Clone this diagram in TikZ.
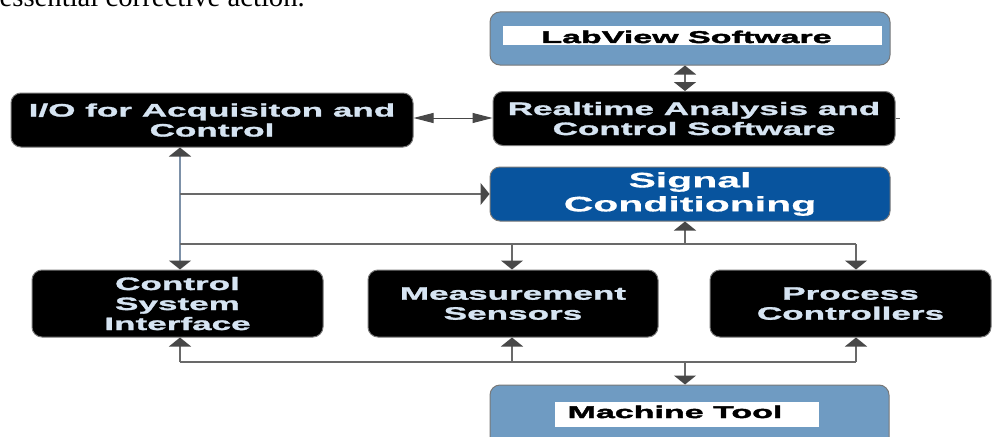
\documentclass[tikz,border=0pt]{standalone}
\usepackage{fontspec}
\usetikzlibrary{arrows.meta}
\newfontfamily\boxfont[FakeStretch=1.95,FakeBold=1.5]{Liberation Sans Bold}
\newfontfamily\heavyfont[FakeStretch=2,FakeBold=2.5]{Liberation Sans Bold}
\newfontfamily\sigfont[FakeStretch=1.95,FakeBold=0.6]{Liberation Sans Bold}
\newfontfamily\serifface{Liberation Serif}
\definecolor{steel}{RGB}{111,155,194}
\definecolor{sigblue}{RGB}{8,84,158}
\definecolor{paleblue}{RGB}{214,228,242}
\definecolor{arrowgray}{RGB}{72,72,72}
\definecolor{linegray}{RGB}{105,105,105}
\definecolor{stemblue}{RGB}{125,145,168}
\definecolor{edgegray}{RGB}{120,120,120}
\tikzset{
  blackbox/.style={draw=edgegray, line width=1pt, fill=black, rounded corners=10pt,
    text=paleblue, font=\boxfont\fontsize{18}{20}\selectfont, align=center, inner sep=0pt,
    text depth=0pt},
  lightbox/.style={draw=edgegray, line width=1pt, fill=steel, rounded corners=10pt},
  sigbox/.style={draw=edgegray, line width=1pt, fill=sigblue, rounded corners=10pt,
    text=white, font=\sigfont\fontsize{21}{24}\selectfont, align=center, inner sep=0pt},
  whitelabel/.style={fill=white, inner sep=0pt},
  labeltext/.style={inner sep=0pt, text=black, font=\heavyfont\fontsize{17}{19}\selectfont},
  conn/.style={draw=linegray, line width=1.5pt},
  bigtip/.style={arrows={-{Triangle[width=22pt,length=9pt,color=arrowgray]}}},
  bigdbl/.style={arrows={{Triangle[width=22pt,length=9pt,color=arrowgray]}-{Triangle[width=22pt,length=9pt,color=arrowgray]}}},
  thindbl/.style={draw=arrowgray, line width=1pt,
    arrows={{Triangle[width=10pt,length=20pt]}-{Triangle[width=10pt,length=20pt]}}},
}
\begin{document}
\begin{tikzpicture}[x=1pt,y=-1pt]
\useasboundingbox (0,0) rectangle (992,436);
\clip (0,0) rectangle (992,436);
\fill[white] (0,0) rectangle (992,436);

% fragment of surrounding text (cut off at the top, as in the reference)
\node[inner sep=0pt, anchor=base east, font=\serifface\fontsize{28.7}{30}\selectfont] (frag) at (305,7) {essential corrective action.};

% boxes
\node[lightbox, minimum width=400pt, minimum height=53pt] (lab) at (690,38.5) {};
\node[whitelabel, minimum width=379pt, minimum height=19pt] (lablabel) at (692.5,35.5) {};
\node[labeltext, anchor=base] (labtxt) at (686.5,43) {LabView Software};

\node[blackbox, minimum width=402pt, minimum height=54pt] (rt) at (694,118.5) {Realtime Analysis and\\Control Software};
\node[blackbox, minimum width=402pt, minimum height=54pt] (io) at (212,120) {I/O for Acquisiton and\\Control};
\node[sigbox, minimum width=400pt, minimum height=54pt] (sig) at (690,194) {Signal\\Conditioning};

\node[blackbox, minimum width=291pt, minimum height=67pt] (csi) at (177.5,303.5) {Control\\System\\Interface};
\node[blackbox, minimum width=290pt, minimum height=67pt] (ms) at (513,303.5) {Measurement\\Sensors};
\node[blackbox, minimum width=281pt, minimum height=67pt] (pc) at (850.5,303.5) {Process\\Controllers};

\node[lightbox, minimum width=399pt, minimum height=62pt] (mt) at (689.5,416) {};
\node[whitelabel, minimum width=264pt, minimum height=25pt] (mtlabel) at (687,414.5) {};
\node[labeltext, anchor=base] (mttxt) at (675,418) {Machine Tool};

% junction coordinates
\coordinate (j) at (180,194);
\coordinate (b1l) at (180,244);
\coordinate (b1r) at (856,244);
\coordinate (b2l) at (180,362);
\coordinate (b2r) at (856,362);
\coordinate (b1s) at (685,244);
\coordinate (b1m) at (512,244);
\coordinate (b2s) at (685,362);
\coordinate (b2m) at (512,362);

% connectors
\draw[conn, bigdbl, line width=2pt] (685,0 |- lab.south) -- (685,0 |- rt.north);
\draw[thindbl] (io.east |- 0,118) -- (rt.west |- 0,118);
\draw[draw=linegray, line width=1pt] (rt.east) -- ++(4,0);

\draw[draw=stemblue, line width=2.5pt, bigdbl] (180,0 |- io.south) -- (180,0 |- csi.north);
\draw[conn, bigtip] (j) -- (sig.west |- j);

\draw[conn] (b1l) -- (b1r);
\draw[conn, bigtip] (b1s) -- (b1s |- sig.south);
\draw[conn, bigtip] (b1m) -- (b1m |- ms.north);
\draw[conn, bigtip] (b1r) -- (b1r |- pc.north);

\draw[conn] (b2l) -- (b2r);
\draw[conn, bigtip] (b2l) -- (b2l |- csi.south);
\draw[conn, bigtip] (b2m) -- (b2m |- ms.south);
\draw[conn, bigtip] (b2r) -- (b2r |- pc.south);
\draw[conn, bigtip] (b2s) -- (b2s |- mt.north);
\end{tikzpicture}
\end{document}
